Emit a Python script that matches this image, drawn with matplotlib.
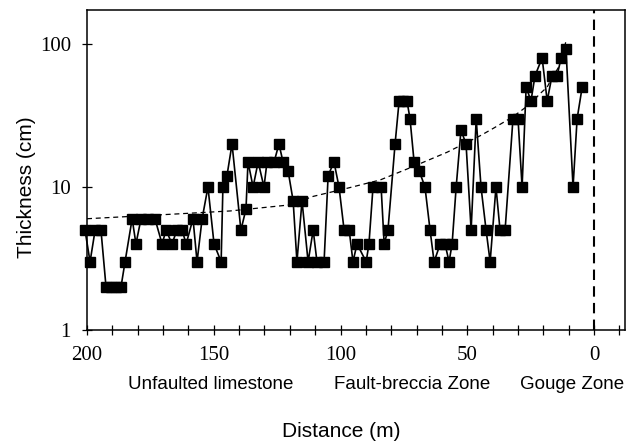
import matplotlib
matplotlib.use('Agg')
import matplotlib.pyplot as plt
from matplotlib.ticker import MultipleLocator, FixedLocator, NullLocator

# bed thickness measured along the traverse
distance = [200.8, 198.8, 196.8, 194.5, 192.5, 190.5, 188.6, 186.6, 185.0, 182.2,
            180.7, 178.7, 175.9, 173.2, 170.4, 168.8, 166.5, 164.5, 162.5, 160.9,
            158.2, 156.6, 154.6, 152.3, 149.9, 147.1, 146.4, 144.8, 142.8, 139.3,
            137.3, 136.5, 134.5, 132.5, 130.2, 129.0, 126.2, 124.3, 122.7, 120.7,
            118.7, 117.2, 115.2, 112.8, 110.8, 109.3, 106.5, 104.9, 102.6, 100.6,
            98.6, 96.6, 95.1, 93.5, 89.9, 88.8, 87.2, 84.0, 82.8, 81.3,
            78.5, 76.9, 75.3, 73.8, 72.6, 71.0, 69.0, 66.7, 64.7, 63.1,
            60.7, 58.8, 57.2, 56.0, 54.4, 52.5, 50.5, 48.5, 46.5, 44.6,
            42.6, 41.0, 38.7, 37.1, 35.1, 32.0, 30.0, 28.4, 26.8, 24.9,
            23.3, 20.5, 18.5, 16.6, 14.6, 13.0, 11.1, 8.3, 6.7, 4.7]
thickness = [5, 3, 5, 5, 2, 2, 2, 2, 3, 6,
             4, 6, 6, 6, 4, 5, 4, 5, 5, 4,
             6, 3, 6, 10, 4, 3, 10, 12, 20, 5,
             7, 15, 10, 15, 10, 15, 15, 20, 15, 13,
             8, 3, 8, 3, 5, 3, 3, 12, 15, 10,
             5, 5, 3, 4, 3, 4, 10, 10, 4, 5,
             20, 40, 40, 40, 30, 15, 13, 10, 5, 3,
             4, 4, 3, 4, 10, 25, 20, 5, 30, 10,
             5, 3, 10, 5, 5, 30, 30, 10, 50, 40,
             60, 80, 40, 60, 60, 80, 93, 10, 30, 50]

# fitted trend (dashed curve)
trend_x = [200.0, 163.3, 143.6, 119.9, 110.8, 97.4, 84.4, 71.4, 58.0, 45.0,
           39.8, 32.0, 25.3, 21.3, 18.5, 17.3, 14.2, 12.5, 11.1]
trend_y = [6.0, 6.5, 6.8, 7.5, 8.6, 9.8, 11.2, 13.9, 17.5, 22.8,
           25.7, 31.0, 38.0, 45.0, 50.0, 55.0, 68.0, 82.0, 105.0]

zones = ['Unfaulted limestone', 'Fault-breccia Zone', 'Gouge Zone']
zone_x = [0.331, 0.647, 0.898]

serif = 'Liberation Serif'
sans = 'Liberation Sans'

fig = plt.figure(figsize=(6.37, 4.43), dpi=100)
ax = fig.add_axes([0.1366, 0.2551, 0.8446, 0.7223])

ax.plot(distance, thickness, '-s', color='black', lw=1.2, ms=6.5,
        markerfacecolor='black', markeredgecolor='black', clip_on=False, zorder=3)
ax.plot(trend_x, trend_y, color='black', lw=0.9, dashes=(4, 3), zorder=2)
ax.axvline(0, color='black', lw=1.5, dashes=(5, 3))

ax.set_yscale('log')
ax.set_ylim(1, 173)
ax.set_xlim(200, -12.2)

ax.yaxis.set_major_locator(FixedLocator([1, 10, 100]))
ax.yaxis.set_minor_locator(NullLocator())
ax.set_yticklabels(['1', '10', '100'])
ax.xaxis.set_major_locator(MultipleLocator(50))
ax.xaxis.set_minor_locator(MultipleLocator(10))

ax.tick_params(axis='both', which='both', direction='inout', color='black', width=0.9)
ax.tick_params(axis='x', which='both', length=7, pad=8)
ax.tick_params(axis='y', which='major', length=7, pad=8)
for lab in ax.get_xticklabels() + ax.get_yticklabels():
    lab.set_fontfamily(serif)
    lab.set_fontsize(15)

for s in ax.spines.values():
    s.set_linewidth(1.1)
    s.set_color('black')

fig.text(0.041, 0.577, 'Thickness (cm)', rotation=90, ha='center', va='center',
         fontsize=15, family=sans)
fig.text(0.535, 0.025, 'Distance (m)', ha='center', va='center',
         fontsize=15, family=sans)
for name, zx in zip(zones, zone_x):
    fig.text(zx, 0.131, name, ha='center', va='center', fontsize=13.5, family=sans)

fig.savefig('out.png', dpi=100)
